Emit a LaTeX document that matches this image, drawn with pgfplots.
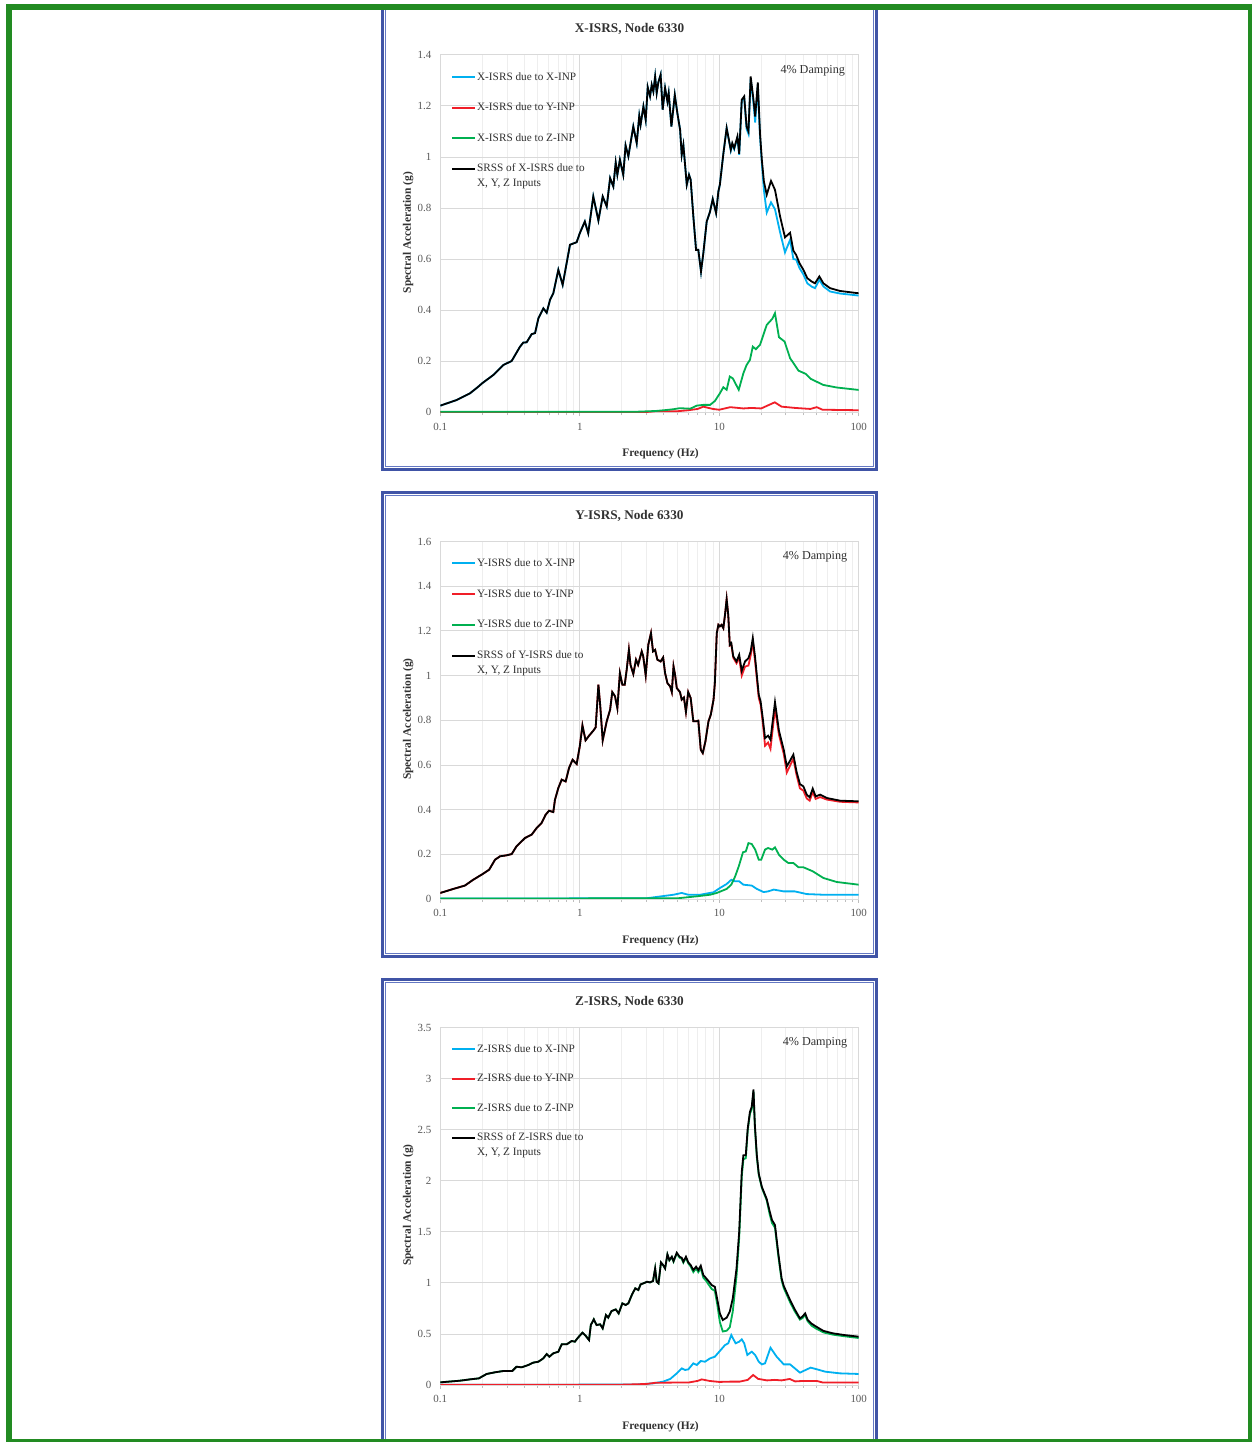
\documentclass[border=0pt]{standalone}
\usepackage{fontspec}
\setmainfont{Liberation Serif}
\usepackage{pgfplots}
\usepackage{pgfplotstable}
\pgfplotsset{compat=1.18}
\definecolor{isblue}{RGB}{0,176,240}
\definecolor{isred}{RGB}{240,30,40}
\definecolor{isgreen}{RGB}{0,176,80}
\definecolor{frameblue}{RGB}{64,84,166}
\definecolor{frameinner}{RGB}{100,120,195}
\definecolor{bordergreen}{RGB}{34,139,34}
\definecolor{gridmaj}{RGB}{217,217,217}
\definecolor{gridmin}{RGB}{238,238,238}
\definecolor{tickgray}{RGB}{190,190,190}
\definecolor{labgray}{RGB}{89,89,89}
\definecolor{labdark}{RGB}{50,50,50}

% ---------------- Panel 1: X-ISRS ----------------
\pgfplotstableread{
f xx srss
0.1 0.026 0.026
0.131 0.048 0.048
0.163 0.074 0.074
0.187 0.100 0.100
0.2 0.114 0.114
0.24 0.146 0.146
0.283 0.185 0.185
0.325 0.201 0.201
0.373 0.257 0.257
0.394 0.273 0.273
0.416 0.274 0.274
0.452 0.306 0.306
0.478 0.310 0.310
0.505 0.368 0.368
0.548 0.407 0.407
0.579 0.390 0.390
0.612 0.440 0.440
0.646 0.466 0.466
0.702 0.558 0.558
0.754 0.499 0.499
0.851 0.656 0.656
0.95 0.666 0.666
1.0 0.701 0.701
1.087 0.747 0.747
1.15 0.701 0.701
1.25 0.845 0.845
1.36 0.751 0.751
1.46 0.845 0.845
1.56 0.806 0.806
1.65 0.917 0.917
1.74 0.884 0.884
1.81 0.978 0.978
1.86 0.930 0.930
1.94 0.989 0.989
2.05 0.930 0.930
2.13 1.045 1.045
2.23 1.002 1.002
2.42 1.119 1.119
2.56 1.054 1.054
2.67 1.161 1.161
2.73 1.126 1.126
2.86 1.198 1.198
2.97 1.145 1.145
3.07 1.273 1.273
3.19 1.237 1.237
3.28 1.282 1.282
3.37 1.256 1.256
3.47 1.315 1.315
3.56 1.250 1.250
3.66 1.292 1.292
3.80 1.322 1.322
3.93 1.185 1.185
4.09 1.270 1.270
4.25 1.217 1.217
4.34 1.250 1.250
4.54 1.119 1.119
4.80 1.243 1.243
5.01 1.171 1.171
5.24 1.106 1.106
5.38 1.008 1.008
5.53 1.047 1.047
5.85 0.891 0.891
6.07 0.930 0.930
6.24 0.910 0.910
6.52 0.767 0.767
6.82 0.636 0.636
7.08 0.636 0.636
7.40 0.551 0.551
7.69 0.623 0.623
8.13 0.747 0.747
8.59 0.786 0.786
8.98 0.835 0.835
9.49 0.780 0.780
9.86 0.865 0.865
10.1 0.891 0.891
10.7 1.012 1.012
11.3 1.113 1.113
12.1 1.025 1.028
12.4 1.050 1.054
12.8 1.030 1.034
13.5 1.075 1.080
13.9 1.008 1.012
14.5 1.220 1.224
15.1 1.232 1.237
15.7 1.110 1.119
16.2 1.090 1.100
16.8 1.305 1.315
17.6 1.210 1.224
18.1 1.135 1.158
18.9 1.280 1.292
19.6 1.080 1.093
20.2 0.975 0.989
20.9 0.870 0.904
21.9 0.782 0.852
23.5 0.822 0.906
25.1 0.795 0.871
27.3 0.705 0.767
29.6 0.626 0.685
32.2 0.675 0.703
34.0 0.600 0.633
35.6 0.598 0.616
37.6 0.565 0.584
40.1 0.540 0.558
42.8 0.505 0.525
46.0 0.492 0.512
48.6 0.486 0.505
52.2 0.519 0.532
55.8 0.493 0.505
62.3 0.473 0.486
73.5 0.465 0.475
100 0.457 0.466
}\tabXmain
\pgfplotstableread{
f v
0.1 0.001
3 0.001
3.5 0.004
5 0.004
6 0.008
7 0.013
7.7 0.022
9 0.013
10 0.010
12 0.020
14.9 0.015
17 0.017
20 0.015
25 0.039
28 0.022
35 0.017
45 0.013
50 0.020
55 0.010
100 0.008
}\tabXy
\pgfplotstableread{
f v
0.1 0.002
2.5 0.002
3.5 0.005
4.2 0.009
4.7 0.012
5.2 0.016
6.2 0.014
6.9 0.026
7.7 0.029
8.6 0.029
9.3 0.044
10.1 0.074
10.7 0.098
11.3 0.088
11.9 0.140
12.5 0.133
13.8 0.088
14.9 0.153
15.7 0.185
16.6 0.205
17.4 0.257
18.3 0.247
19.6 0.264
21.9 0.342
24.0 0.366
25.1 0.388
26.8 0.294
29.4 0.277
32.2 0.212
37.0 0.163
41.8 0.150
45.2 0.131
55.8 0.107
69.6 0.097
100 0.0875
}\tabXz

% ---------------- Panel 2: Y-ISRS ----------------
\pgfplotstableread{
f yy srss
0.1 0.027 0.027
0.124 0.045 0.045
0.15 0.060 0.060
0.172 0.086 0.086
0.198 0.109 0.109
0.224 0.131 0.131
0.247 0.176 0.176
0.268 0.191 0.191
0.296 0.195 0.195
0.325 0.201 0.201
0.352 0.236 0.236
0.373 0.251 0.251
0.405 0.273 0.273
0.452 0.288 0.288
0.491 0.318 0.318
0.532 0.340 0.340
0.569 0.377 0.377
0.602 0.395 0.395
0.646 0.389 0.389
0.664 0.444 0.444
0.702 0.497 0.497
0.742 0.534 0.534
0.792 0.526 0.526
0.837 0.586 0.586
0.888 0.623 0.623
0.95 0.604 0.604
1.0 0.683 0.683
1.045 0.777 0.777
1.10 0.710 0.710
1.17 0.732 0.732
1.25 0.753 0.753
1.30 0.768 0.768
1.36 0.959 0.959
1.40 0.869 0.869
1.46 0.710 0.710
1.56 0.795 0.795
1.65 0.847 0.847
1.71 0.926 0.926
1.79 0.907 0.907
1.86 0.854 0.854
1.94 1.011 1.011
2.02 0.959 0.959
2.10 0.959 0.959
2.17 1.026 1.026
2.25 1.115 1.115
2.31 1.048 1.048
2.42 1.007 1.007
2.53 1.071 1.071
2.62 1.048 1.048
2.78 1.108 1.108
2.85 1.086 1.086
2.97 1.001 1.001
3.10 1.138 1.138
3.24 1.190 1.190
3.35 1.108 1.108
3.47 1.115 1.115
3.60 1.071 1.071
3.80 1.063 1.063
3.96 1.081 1.081
4.09 1.011 1.011
4.25 0.966 0.966
4.45 0.951 0.951
4.57 0.926 0.926
4.70 1.041 1.041
4.82 1.004 1.004
4.96 0.944 0.944
5.23 0.926 0.926
5.38 0.892 0.892
5.58 0.902 0.902
5.77 0.837 0.837
5.99 0.926 0.926
6.24 0.899 0.899
6.52 0.795 0.795
6.82 0.795 0.795
7.08 0.798 0.798
7.37 0.668 0.668
7.62 0.653 0.653
7.96 0.705 0.705
8.37 0.795 0.795
8.70 0.825 0.825
9.1 0.892 0.892
9.3 0.966 0.966
9.6 1.190 1.190
9.86 1.227 1.227
10.1 1.220 1.220
10.4 1.227 1.227
10.7 1.212 1.212
11.0 1.272 1.272
11.3 1.342 1.342
11.6 1.270 1.272
11.9 1.135 1.138
12.2 1.140 1.145
12.6 1.080 1.086
13.3 1.055 1.063
13.9 1.080 1.093
14.5 1.000 1.021
15.3 1.040 1.063
16.2 1.045 1.078
16.8 1.090 1.108
17.4 1.150 1.168
18.1 1.060 1.078
19.2 0.900 0.914
19.8 0.870 0.884
20.5 0.790 0.810
21.3 0.686 0.720
22.4 0.700 0.731
23.3 0.672 0.713
25.1 0.852 0.881
26.8 0.735 0.753
29.0 0.650 0.668
30.5 0.566 0.594
31.8 0.590 0.613
34.0 0.628 0.646
35.8 0.556 0.571
37.9 0.495 0.514
40.1 0.485 0.504
42.4 0.450 0.467
44.5 0.440 0.455
46.8 0.478 0.494
49.1 0.448 0.459
52.9 0.456 0.467
59.0 0.445 0.452
73.5 0.435 0.440
100 0.432 0.437
}\tabYmain
\pgfplotstableread{
f v
0.1 0.002
3 0.003
3.96 0.013
4.7 0.019
5.38 0.027
6.0 0.019
7.3 0.019
9.1 0.030
10.1 0.049
11.3 0.067
12.2 0.086
13.0 0.079
13.9 0.079
14.9 0.064
17.1 0.060
18.6 0.045
20.8 0.031
22.4 0.034
24.6 0.042
29.0 0.034
34.8 0.034
42.4 0.022
55.8 0.019
100 0.019
}\tabYx
\pgfplotstableread{
f v
0.1 0.002
5 0.003
6.9 0.012
8.6 0.019
9.6 0.027
11.3 0.045
12.2 0.064
13.0 0.101
13.8 0.146
14.8 0.209
15.5 0.213
16.2 0.250
17.1 0.246
18.1 0.221
19.2 0.176
20.0 0.176
21.3 0.221
22.4 0.228
24.0 0.221
25.1 0.231
26.8 0.198
29.0 0.176
31.3 0.161
34.0 0.161
37.0 0.142
40.1 0.142
46.8 0.124
55.8 0.094
69.6 0.076
100 0.064
}\tabYz

% ---------------- Panel 3: Z-ISRS ----------------
\pgfplotstableread{
f zz srss
0.1 0.026 0.026
0.138 0.042 0.042
0.163 0.055 0.055
0.189 0.065 0.065
0.215 0.108 0.108
0.246 0.124 0.124
0.283 0.137 0.137
0.328 0.137 0.137
0.352 0.179 0.179
0.383 0.173 0.173
0.428 0.196 0.196
0.464 0.219 0.219
0.505 0.228 0.228
0.548 0.261 0.261
0.579 0.303 0.303
0.605 0.277 0.277
0.646 0.310 0.310
0.702 0.326 0.326
0.742 0.398 0.398
0.805 0.398 0.398
0.875 0.431 0.431
0.922 0.424 0.424
0.97 0.463 0.463
1.045 0.512 0.512
1.10 0.483 0.483
1.165 0.440 0.440
1.20 0.587 0.587
1.26 0.643 0.643
1.32 0.587 0.587
1.40 0.594 0.594
1.46 0.554 0.554
1.54 0.685 0.685
1.60 0.659 0.659
1.69 0.724 0.724
1.81 0.740 0.740
1.90 0.701 0.701
2.02 0.799 0.799
2.13 0.783 0.783
2.23 0.799 0.799
2.37 0.887 0.887
2.50 0.946 0.946
2.63 0.930 0.930
2.73 0.985 0.985
2.86 0.995 0.995
3.03 1.010 1.011
3.19 1.004 1.005
3.35 1.017 1.018
3.47 1.140 1.141
3.56 1.010 1.011
3.67 0.994 0.995
3.82 1.199 1.200
3.96 1.173 1.174
4.09 1.140 1.141
4.25 1.277 1.279
4.39 1.220 1.223
4.57 1.252 1.256
4.70 1.207 1.213
4.96 1.289 1.295
5.19 1.247 1.256
5.38 1.235 1.246
5.53 1.197 1.207
5.77 1.246 1.256
6.0 1.190 1.200
6.24 1.160 1.174
6.52 1.105 1.125
6.82 1.140 1.158
7.08 1.105 1.125
7.37 1.144 1.168
7.69 1.050 1.076
8.0 1.025 1.050
8.37 0.985 1.018
8.83 0.940 0.978
9.3 0.921 0.962
9.7 0.780 0.832
10.1 0.617 0.701
10.6 0.524 0.636
11.3 0.531 0.659
11.9 0.565 0.718
12.5 0.719 0.848
13.3 1.065 1.141
13.9 1.440 1.500
14.5 2.039 2.087
14.9 2.210 2.250
15.5 2.220 2.250
16.0 2.490 2.511
16.6 2.655 2.674
17.1 2.700 2.723
17.6 2.875 2.893
18.0 2.530 2.550
18.6 2.230 2.250
19.2 2.058 2.070
20.2 1.930 1.940
21.9 1.808 1.820
23.0 1.670 1.700
23.9 1.585 1.614
25.1 1.540 1.566
26.5 1.265 1.290
28.0 1.025 1.044
29.0 0.950 0.970
32.2 0.810 0.832
35.0 0.715 0.734
37.9 0.640 0.652
39.5 0.655 0.670
41.3 0.685 0.701
43.0 0.625 0.640
46.0 0.580 0.600
49.1 0.555 0.575
55.8 0.515 0.530
65.3 0.493 0.506
79.1 0.477 0.489
100 0.460 0.473
}\tabZmain
\pgfplotstableread{
f v
0.1 0.002
2.5 0.004
3.35 0.016
3.96 0.033
4.45 0.059
4.96 0.114
5.38 0.163
5.68 0.147
6.0 0.153
6.52 0.212
6.9 0.196
7.37 0.235
7.9 0.228
8.6 0.261
9.3 0.277
10.1 0.333
11.0 0.391
11.6 0.408
12.2 0.489
13.1 0.408
13.9 0.424
14.5 0.447
15.1 0.408
15.9 0.294
17.1 0.326
18.1 0.294
19.2 0.228
20.2 0.202
21.3 0.212
23.3 0.365
25.8 0.277
29.0 0.202
32.2 0.202
37.9 0.121
45.2 0.170
49.1 0.157
57.7 0.130
73.5 0.114
100 0.108
}\tabZx
\pgfplotstableread{
f v
0.1 0.002
2 0.003
3 0.010
3.5 0.022
5 0.024
6 0.024
7 0.040
7.5 0.055
8.5 0.040
10 0.030
12 0.033
14 0.033
16 0.050
17.5 0.098
19 0.060
22 0.045
25 0.050
28 0.045
32 0.059
35 0.035
40 0.040
50 0.040
55 0.025
100 0.024
}\tabZy

\pgfplotsset{every axis/.append style={
    scale only axis, width=418.4bp, height=357.5bp,
    xtick={0.1,1,10,100}, xticklabels={0.1,1,10,100},
    minor xtick={0.2,0.3,0.4,0.5,0.6,0.7,0.8,0.9,2,3,4,5,6,7,8,9,20,30,40,50,60,70,80,90},
    xmajorgrids=true, xminorgrids=true, ymajorgrids=true,
    major grid style={draw=gridmaj, line width=0.8bp},
    minor grid style={draw=gridmin, line width=0.7bp},
    axis line style={draw=gridmaj, line width=0.8bp},
    tick align=outside,
    xtick style={draw=tickgray, line width=0.6bp},
    major tick length=4bp, minor tick length=3bp,
    ytick style={draw=none},
    tick label style={font=\fontsize{11}{13}\selectfont, text=labgray},
    xticklabel style={yshift=-3bp},
    yticklabel style={xshift=-1.5bp},
    every axis label/.append style={font=\bfseries\fontsize{11.5}{14}\selectfont, text=labdark},
    every axis title shift=0pt,
    every axis title/.append style={font=\bfseries\fontsize{13.3}{16}\selectfont, text=labdark,
      at={(axis description cs:0.4522,1.061)}, anchor=base, yshift=0pt},
    every axis x label/.append style={at={(axis description cs:0.5263,-0.124)}, anchor=base},
    every axis y label/.append style={at={(axis description cs:-0.077,0.503)}, anchor=center},
    legend cell align=left,
    every axis legend/.append style={draw=none, fill=none, anchor=north west, inner sep=0pt,
      font=\fontsize{11.3}{15}\selectfont, text=labdark,
      nodes={inner sep=1bp, align=left}},
}}
\pgfplotsset{
  limg/.style={legend image code/.code={\draw[#1, line width=1.9bp] (0bp,0bp) -- (23bp,0bp);}},
  limgsrss/.style={legend image code/.code={\path (0bp,-7bp); \draw[black, line width=1.9bp] (0bp,7bp) -- (23bp,7bp);}},
}

\begin{document}
\begin{tikzpicture}[x=1bp,y=1bp]
\useasboundingbox (0,0) rectangle (1251,1442);
\fill[white] (0,0) rectangle (1251,1442);
\draw[frameblue, line width=3bp] (382.5,972.5) rectangle (876.7,1436.8);
\draw[frameinner, line width=1bp] (385.8,975.7) rectangle (873.6,1433.6);
\draw[frameblue, line width=3bp] (382.5,485) rectangle (876.7,949.3);
\draw[frameinner, line width=1bp] (385.8,488.2) rectangle (873.6,946.1);
\draw[frameblue, line width=3bp] (382.5,-1.8) rectangle (876.7,462.5);
\draw[frameinner, line width=1bp] (385.8,1.4) rectangle (873.6,459.3);

% Panel 1
\begin{axis}[xmode=log, xmin=0.1, xmax=100, ymin=0, ymax=1.4, ytick distance=0.2,
  at={(440.3bp,1029.7bp)}, anchor=south west,
  xtick pos=bottom, ytick pos=left,
  /pgf/number format/assume math mode=true,
  title={X-ISRS, Node 6330},
  xlabel={Frequency (Hz)}, ylabel={Spectral Acceleration (g)},
  legend style={at={(axis description cs:0.0256,0.954)}, row sep=19.2bp}]
\addplot[isblue, line width=1.8bp, limg=isblue] table[x=f, y=xx] {\tabXmain};
\addlegendentry{X-ISRS due to X-INP}
\addplot[isred, line width=1.8bp, limg=isred] table[x=f, y=v] {\tabXy};
\addlegendentry{X-ISRS due to Y-INP}
\addplot[isgreen, line width=1.8bp, limg=isgreen] table[x=f, y=v] {\tabXz};
\addlegendentry{X-ISRS due to Z-INP}
\addplot[black, line width=1.8bp, limgsrss] table[x=f, y=srss] {\tabXmain};
\addlegendentry{SRSS of X-ISRS due to\\X, Y, Z Inputs}
\node[anchor=base east, font=\fontsize{12.2}{14}\selectfont, text=labdark] at (axis description cs:0.9756,0.947) {4\% Damping};
\end{axis}

% Panel 2
\begin{axis}[xmode=log, xmin=0.1, xmax=100, ymin=0, ymax=1.6, ytick distance=0.2,
  at={(440.3bp,543bp)}, anchor=south west,
  xtick pos=bottom, ytick pos=left,
  /pgf/number format/assume math mode=true,
  title={Y-ISRS, Node 6330},
  xlabel={Frequency (Hz)}, ylabel={Spectral Acceleration (g)},
  legend style={at={(axis description cs:0.0256,0.955)}, row sep=19.4bp}]
\addplot[isblue, line width=1.8bp, limg=isblue] table[x=f, y=v] {\tabYx};
\addlegendentry{Y-ISRS due to X-INP}
\addplot[isred, line width=1.8bp, limg=isred] table[x=f, y=yy] {\tabYmain};
\addlegendentry{Y-ISRS due to Y-INP}
\addplot[isgreen, line width=1.8bp, limg=isgreen] table[x=f, y=v] {\tabYz};
\addlegendentry{Y-ISRS due to Z-INP}
\addplot[black, line width=1.8bp, limgsrss] table[x=f, y=srss] {\tabYmain};
\addlegendentry{SRSS of Y-ISRS due to\\X, Y, Z Inputs}
\node[anchor=base east, font=\fontsize{12.2}{14}\selectfont, text=labdark] at (axis description cs:0.981,0.9486) {4\% Damping};
\end{axis}

% Panel 3
\begin{axis}[xmode=log, xmin=0.1, xmax=100, ymin=0, ymax=3.5, ytick distance=0.5,
  at={(440.3bp,57bp)}, anchor=south west,
  xtick pos=bottom, ytick pos=left,
  /pgf/number format/assume math mode=true,
  title={Z-ISRS, Node 6330},
  xlabel={Frequency (Hz)}, ylabel={Spectral Acceleration (g)},
  legend style={at={(axis description cs:0.0256,0.956)}, row sep=18.2bp}]
\addplot[isblue, line width=1.8bp, limg=isblue] table[x=f, y=v] {\tabZx};
\addlegendentry{Z-ISRS due to X-INP}
\addplot[isred, line width=1.8bp, limg=isred] table[x=f, y=v] {\tabZy};
\addlegendentry{Z-ISRS due to Y-INP}
\addplot[isgreen, line width=1.8bp, limg=isgreen] table[x=f, y=zz] {\tabZmain};
\addlegendentry{Z-ISRS due to Z-INP}
\addplot[black, line width=1.8bp, limgsrss] table[x=f, y=srss] {\tabZmain};
\addlegendentry{SRSS of Z-ISRS due to\\X, Y, Z Inputs}
\node[anchor=base east, font=\fontsize{12.2}{14}\selectfont, text=labdark] at (axis description cs:0.981,0.9505) {4\% Damping};
\end{axis}

\draw[bordergreen, line width=6bp] (9,0) rectangle (1251,1435);
\end{tikzpicture}
\end{document}
